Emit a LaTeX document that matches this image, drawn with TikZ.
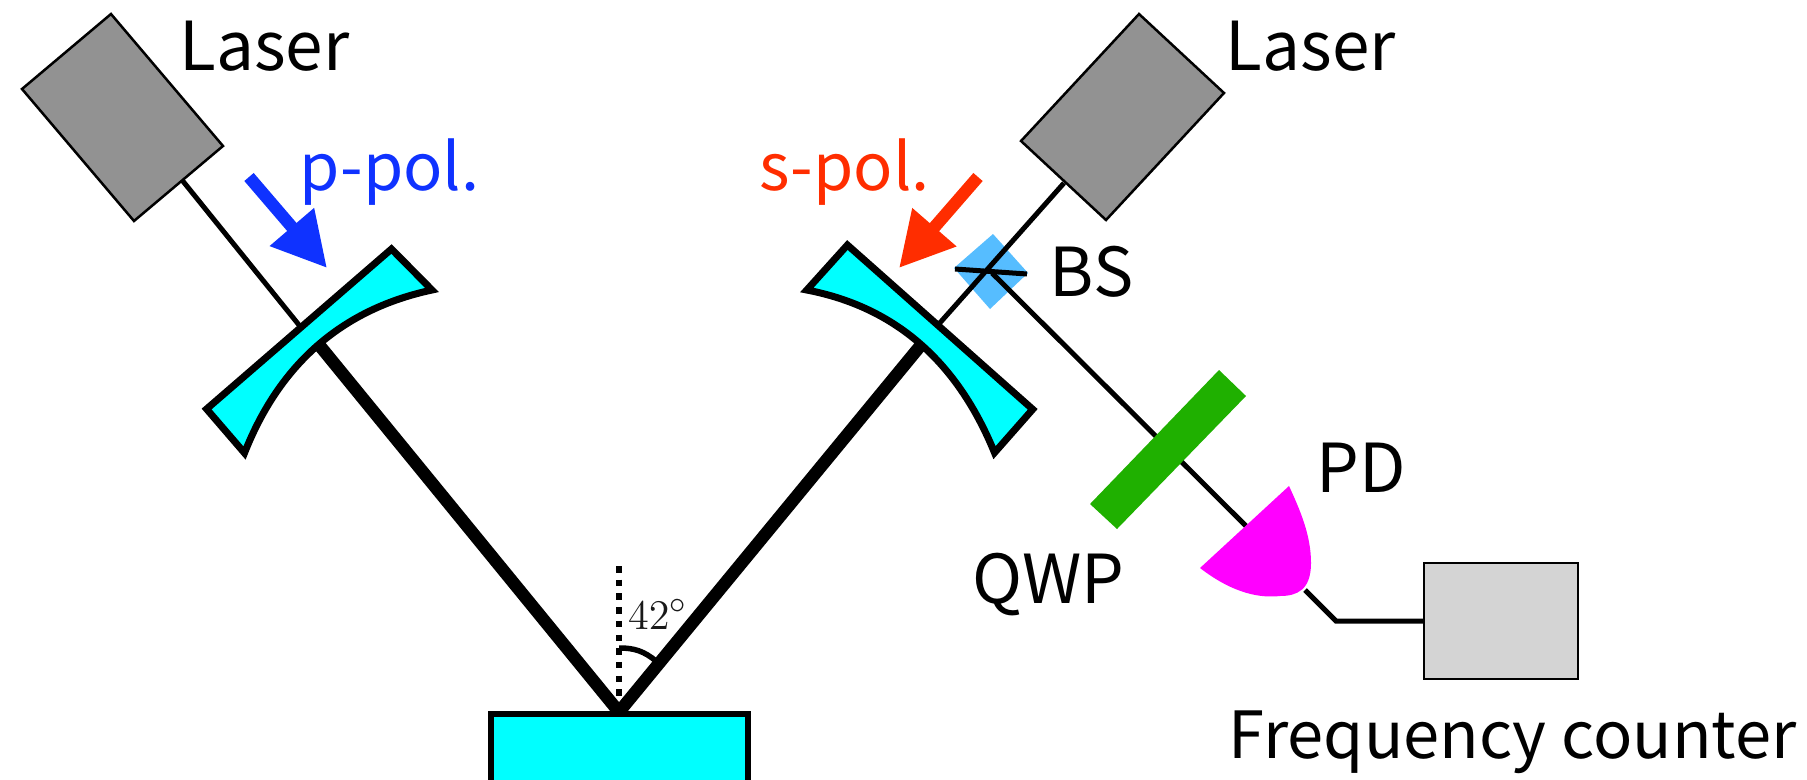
\documentclass[tikz,border=0pt]{standalone}
\usepackage{fontspec}
\usepackage{amsmath}
\setmainfont{Noto Sans CJK JP}
\usetikzlibrary{arrows.meta}

\definecolor{mirrorcyan}{RGB}{0,255,255}
\definecolor{lasergray}{RGB}{146,146,146}
\definecolor{countergray}{RGB}{212,212,212}
\definecolor{pblue}{RGB}{15,50,255}
\definecolor{sred}{RGB}{255,45,0}
\definecolor{bsblue}{RGB}{86,189,255}
\definecolor{qwpgreen}{RGB}{31,176,0}
\definecolor{pdmagenta}{RGB}{255,0,255}

\tikzset{
    thinbeam/.style={line width=.05cm},
    thickbeam/.style={line width=.125cm},
    mirror/.style={draw=black,fill=mirrorcyan,line width=.07cm,miter limit=10},
    boxpart/.style={draw=black,line width=.025cm},
    polarrow/.style={line width=.123cm,-{Triangle[length=.54cm,width=.55cm,sep=0pt]}},
    lbl/.style={anchor=base west,inner sep=0pt,font=\fontsize{18.5pt}{22pt}\selectfont},
    biglbl/.style={lbl,font=\fontsize{19.2pt}{22pt}\selectfont},
}

\begin{document}
\begin{tikzpicture}[x=.01cm,y=-.01cm]
    \useasboundingbox (0,0) rectangle (1807,779);
    \clip (0,0) rectangle (1807,779);

    % points the beams run through
    \coordinate (spot) at (619,712);
    \coordinate (leftout) at (182,180);
    \coordinate (leftin) at (299,325);
    \coordinate (leftback) at (320,346);
    \coordinate (rightout) at (1064,183);
    \coordinate (rightin) at (938,325);
    \coordinate (rightback) at (921,345);
    \coordinate (split) at (992,273);
    \coordinate (pdin) at (1246,526);
    \coordinate (pdout) at (1305,590);
    \coordinate (bend) at (1336,621);
    \coordinate (normaltop) at (619,566);
    \coordinate (normalend) at (619,703);
    \coordinate (arcstart) at (619,648);
    \coordinate (arcend) at (656,661);

    % beam splitter sits under the beams
    \fill[bsblue] (993,234) -- (1028,273) -- (990,309) -- (954,268) -- cycle;

    % beams
    \draw[thinbeam] (leftout) -- (leftin);
    \draw[thickbeam,miter limit=10] (leftback) -- (spot) -- (rightback);
    \draw[thinbeam] (rightout) -- (rightin);
    \draw[thinbeam] (split) -- (pdin);
    \draw[thinbeam] (pdout) -- (bend) -- (1424,621);
    \coordinate (bsleft) at (955,269);
    \coordinate (bsright) at (1027,274);
    \draw[thinbeam] (bsleft) -- (bsright);

    % normal and angle
    \draw[line width=.065cm,dash pattern=on .065cm off .072cm] (normaltop) -- (normalend);
    \draw[line width=.055cm] (arcstart) to[bend left=20] (arcend);
    \node[anchor=base west,inner sep=0pt,font=\fontsize{12.6pt}{14pt}\selectfont,black!90] (anglelbl) at (627.5,629) {$42^\circ$};

    % lasers
    \filldraw[boxpart,fill=lasergray] (111,14) -- (223,146) -- (134,221) -- (22,89) -- cycle;
    \filldraw[boxpart,fill=lasergray] (1139,14) -- (1224,93) -- (1106,220) -- (1021,141) -- cycle;

    % mirrors
    \filldraw[mirror] (391.5,249) -- (432,290) .. controls (343,309) and (280,363) .. (244.5,453) -- (206.6,409) -- cycle;
    \filldraw[mirror] (847.4,245) -- (806.8,290) .. controls (895,307) and (957,361) .. (994.5,452.7) -- (1032.7,409.3) -- cycle;
    \filldraw[draw=black,fill=mirrorcyan,line width=.06cm] (491,714) rectangle (748,800);

    % waveplate, detector, counter
    \fill[qwpgreen] (1219,370) -- (1246,396) -- (1117,529) -- (1090,504) -- cycle;
    \fill[pdmagenta] (1289,486) -- (1200,568) .. controls (1235,595) and (1262,598) .. (1280,596)
        .. controls (1297,596) and (1311,590) .. (1311,563) .. controls (1311,535) and (1300,510) .. (1289,486) -- cycle;
    \node[boxpart,fill=countergray,inner sep=0pt,minimum width=1.54cm,minimum height=1.16cm] (counter) at (1501,621) {};

    % polarisation arrows
    \coordinate (ptail) at (249,177);
    \coordinate (ptip) at (327,268);
    \coordinate (stail) at (978,177);
    \coordinate (stip) at (899,268);
    \draw[polarrow,pblue] (ptail) -- (ptip);
    \draw[polarrow,sred] (stail) -- (stip);

    % labels
    \foreach \name/\x/\y/\txt in {laserleft/179/71/Laser, laserright/1225/71/Laser, bs/1049/296/BS, pd/1316/492/PD, qwp/972/603/QWP}
        \node[biglbl] (\name) at (\x,\y) {\txt};
    \node[lbl] (freq) at (1228,758) {Frequency counter};
    \node[lbl,text=pblue] (ppol) at (299,190) {p-pol.};
    \node[lbl,text=sred] (spol) at (759,190) {s-pol.};
\end{tikzpicture}
\end{document}
